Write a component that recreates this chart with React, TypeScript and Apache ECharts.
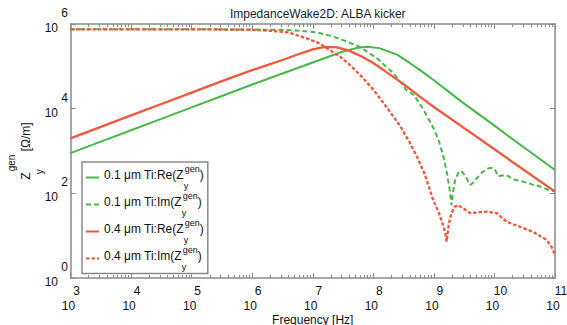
import React, { useEffect, useRef } from 'react';
import * as echarts from 'echarts';

// ---- axis ticks (decade exponents) ----
const xMajorExp = [3, 4, 5, 6, 7, 8, 9, 10, 11];
const yMajorExp = [0, 2, 4, 6];
const minorMantissas = [2, 3, 4, 5, 6, 7, 8, 9];

// ---- series (log10 frequency [Hz], log10 |Z| [Ohm/m]) ----
const re01LogF = [3.0, 3.5, 4.0, 4.5, 5.0, 5.5, 6.0, 6.5, 7.0, 7.25, 7.5, 7.75, 7.9, 8.1, 8.4, 8.6, 8.8, 9.0, 9.2, 9.5, 9.75, 10.0, 10.5, 11.0];
const re01LogZ = [2.95, 3.22, 3.49, 3.76, 4.03, 4.30, 4.57, 4.83, 5.09, 5.22, 5.35, 5.44, 5.46, 5.43, 5.27, 5.08, 4.88, 4.67, 4.45, 4.12, 3.86, 3.60, 3.07, 2.55];

const im01LogF = [3.0, 4.0, 5.0, 6.0, 6.5, 6.8, 7.07, 7.3, 7.5, 7.78, 8.06, 8.33, 8.55, 8.66, 8.72, 8.85, 8.99, 9.08, 9.16, 9.22, 9.27, 9.29, 9.32, 9.35, 9.4, 9.43, 9.47, 9.51, 9.56, 9.6, 9.65, 9.71, 9.8, 9.9, 9.96, 10.01, 10.06, 10.13, 10.2, 10.26, 10.31, 10.4, 10.48, 10.56, 10.64, 10.72, 10.81, 10.9, 11.0];
const im01LogZ = [5.875, 5.875, 5.875, 5.87, 5.86, 5.84, 5.8, 5.72, 5.62, 5.46, 5.19, 4.84, 4.44, 4.33, 4.22, 3.92, 3.55, 3.25, 2.85, 2.45, 2.0, 1.72, 2.05, 2.31, 2.48, 2.53, 2.5, 2.43, 2.3, 2.2, 2.25, 2.36, 2.5, 2.59, 2.6, 2.55, 2.41, 2.42, 2.43, 2.38, 2.33, 2.3, 2.27, 2.24, 2.2, 2.18, 2.13, 2.08, 2.04];

const re04LogF = [3.0, 3.5, 4.0, 4.5, 5.0, 5.5, 6.0, 6.25, 6.5, 6.75, 7.0, 7.2, 7.4, 7.6, 7.8, 8.0, 8.2, 8.5, 8.8, 9.0, 9.5, 10.0, 10.5, 11.0];
const re04LogZ = [3.30, 3.57, 3.84, 4.11, 4.38, 4.65, 4.91, 5.03, 5.15, 5.28, 5.40, 5.46, 5.45, 5.37, 5.24, 5.08, 4.88, 4.58, 4.25, 4.04, 3.54, 3.04, 2.54, 2.04];

const im04LogF = [3.0, 4.0, 5.0, 5.5, 6.0, 6.3, 6.6, 6.9, 7.1, 7.23, 7.45, 7.6, 7.78, 8.0, 8.17, 8.44, 8.6, 8.72, 8.85, 8.99, 9.08, 9.16, 9.19, 9.21, 9.25, 9.29, 9.34, 9.4, 9.5, 9.6, 9.72, 9.87, 10.04, 10.2, 10.42, 10.64, 10.86, 10.95, 11.0];
const im04LogZ = [5.875, 5.875, 5.873, 5.87, 5.86, 5.84, 5.8, 5.66, 5.55, 5.43, 5.23, 5.05, 4.8, 4.45, 4.13, 3.6, 3.2, 2.87, 2.45, 1.84, 1.55, 1.21, 1.05, 0.86, 1.3, 1.53, 1.68, 1.72, 1.63, 1.53, 1.55, 1.57, 1.53, 1.33, 1.21, 1.09, 0.9, 0.72, 0.54];

const legendPrefixes = ['0.1 μm Ti:Re(', '0.1 μm Ti:Im(', '0.4 μm Ti:Re(', '0.4 μm Ti:Im('];
const seriesNames = legendPrefixes.map((p) => p + 'Z_y^gen)');

const GREEN = '#46b84a';
const RED = '#f0573b';
const AXIS = '#8a8a8a';
const FONT = '"Liberation Sans", Arial, Helvetica, sans-serif';

const toPoints = (lf: number[], lz: number[]) => lf.map((f, i) => [Math.pow(10, f), Math.pow(10, lz[i])]);

export default function App() {
  const ref = useRef<HTMLDivElement>(null);

  useEffect(() => {
    if (!ref.current) return;
    const chart = echarts.init(ref.current, null, { renderer: 'svg' });

    const majorX = xMajorExp.map((e) => Math.pow(10, e));
    const minorX: number[] = [];
    xMajorExp.slice(0, -1).forEach((e) => minorMantissas.forEach((m) => minorX.push(m * Math.pow(10, e))));
    const majorY = yMajorExp.map((e) => Math.pow(10, e));

    const expOf = (v: number) => Math.round(Math.log10(v));
    const axisLine = { show: true, lineStyle: { color: AXIS, width: 1.5 } };
    const tickStyle = { color: AXIS, width: 1 };

    const xBase = { type: 'log', logBase: 10, min: 1e3, max: 1e11, splitLine: { show: false }, minorTick: { show: false } };
    const yBase = { type: 'log', logBase: 10, min: 1, max: 1e6, splitLine: { show: false }, minorTick: { show: false } };

    const option: any = {
      animation: false,
      backgroundColor: '#fff',
      title: {
        text: 'ImpedanceWake2D: ALBA kicker',
        left: 312.75,
        top: 3,
        textAlign: 'center',
        textStyle: { fontSize: 12, fontWeight: 'normal', color: '#222', fontFamily: FONT },
      },
      grid: { left: 70.5, right: 12, top: 24, bottom: 47, containLabel: false, outerBoundsMode: 'none' },
      xAxis: [
        {
          ...xBase,
          position: 'bottom',
          axisLine,
          axisTick: { show: true, inside: true, length: 5, customValues: majorX, lineStyle: tickStyle },
          axisLabel: {
            show: true,
            customValues: majorX,
            margin: 6,
            formatter: (v: number) => `{e|${expOf(v)}}\n{b|10}`,
            rich: {
              e: { fontSize: 12, color: '#111', fontFamily: FONT, padding: [0, 0, 0, 12], lineHeight: 14.5 },
              b: { fontSize: 12, color: '#111', fontFamily: FONT, padding: [0, 4, 0, 0], lineHeight: 14.5 },
            },
          },
          name: 'Frequency [Hz]',
          nameLocation: 'middle',
          nameGap: 35.5,
          nameMoveOverlap: false,
          nameTextStyle: { fontSize: 12, color: '#111', fontFamily: FONT },
        },
        {
          ...xBase,
          position: 'top',
          axisLine,
          axisTick: { show: true, inside: true, length: 5, customValues: majorX, lineStyle: tickStyle },
          axisLabel: { show: false },
        },
        {
          ...xBase,
          position: 'bottom',
          axisLine: { show: false },
          axisTick: { show: true, inside: true, length: 3, customValues: minorX, lineStyle: tickStyle },
          axisLabel: { show: false },
        },
        {
          ...xBase,
          position: 'top',
          axisLine: { show: false },
          axisTick: { show: true, inside: true, length: 3, customValues: minorX, lineStyle: tickStyle },
          axisLabel: { show: false },
        },
      ],
      yAxis: [
        {
          ...yBase,
          position: 'left',
          axisLine,
          axisTick: { show: true, inside: true, length: 5, customValues: majorY, lineStyle: tickStyle },
          axisLabel: {
            show: true,
            customValues: majorY,
            margin: 2.5,
            showMinLabel: true,
            showMaxLabel: true,
            padding: [0, 0, 7, 0],
            formatter: (v: number) => `{e|${expOf(v)}}\n{b|10}`,
            rich: {
              e: { fontSize: 12, color: '#111', fontFamily: FONT, lineHeight: 15 },
              b: { fontSize: 12, color: '#111', fontFamily: FONT, padding: [0, 10, 0, 0], lineHeight: 15 },
            },
          },
          name: '{m|Z}{sub|y}{sup|gen}{m| [Ω/m]}',
          nameLocation: 'middle',
          nameRotate: 90,
          nameGap: 26.5,
          nameMoveOverlap: false,
          nameTextStyle: {
            fontFamily: FONT,
            color: '#111',
            rich: {
              m: { fontSize: 12, color: '#111', fontFamily: FONT, verticalAlign: 'top', padding: [14, 0, 0, 0], lineHeight: 38 },
              sup: { fontSize: 10, color: '#111', fontFamily: FONT, verticalAlign: 'top', lineHeight: 10 },
              sub: { fontSize: 10, color: '#111', fontFamily: FONT, verticalAlign: 'bottom', lineHeight: 10, width: 1 },
            },
          },
        },
        {
          ...yBase,
          position: 'right',
          axisLine,
          axisTick: { show: true, inside: true, length: 5, customValues: majorY, lineStyle: tickStyle },
          axisLabel: { show: false },
        },
      ],
      legend: {
        orient: 'vertical',
        left: 82,
        top: 162,
        padding: [2.5, 4, 2, 3],
        itemGap: 1,
        itemWidth: 13,
        itemHeight: 1,
        backgroundColor: '#fff',
        borderColor: AXIS,
        borderWidth: 1.5,
        borderRadius: 0,
        itemStyle: { opacity: 0 },
        data: seriesNames,
        formatter: (name: string) => {
          const i = seriesNames.indexOf(name);
          return `{m|${legendPrefixes[i]}Z}{sub|y}{sup|gen}{m|)}`;
        },
        textStyle: {
          fontFamily: FONT,
          color: '#111',
          rich: {
            m: { fontSize: 12, color: '#111', fontFamily: FONT, verticalAlign: 'top', padding: [4, 0, 0, 0], lineHeight: 26 },
            sup: { fontSize: 9, color: '#111', fontFamily: FONT, verticalAlign: 'top', lineHeight: 9 },
            sub: { fontSize: 9, color: '#111', fontFamily: FONT, verticalAlign: 'bottom', lineHeight: 9, width: 1 },
          },
        },
      },
      series: [
        {
          name: seriesNames[0], type: 'line', xAxisIndex: 0, yAxisIndex: 0, showSymbol: false, symbol: 'none',
          itemStyle: { color: GREEN }, lineStyle: { color: GREEN, width: 2, type: 'solid' },
          data: toPoints(re01LogF, re01LogZ),
        },
        {
          name: seriesNames[1], type: 'line', xAxisIndex: 0, yAxisIndex: 0, showSymbol: false, symbol: 'none',
          itemStyle: { color: GREEN }, lineStyle: { color: GREEN, width: 2, type: [5, 3] },
          data: toPoints(im01LogF, im01LogZ),
        },
        {
          name: seriesNames[2], type: 'line', xAxisIndex: 0, yAxisIndex: 0, showSymbol: false, symbol: 'none',
          itemStyle: { color: RED }, lineStyle: { color: RED, width: 2.3, type: 'solid' },
          data: toPoints(re04LogF, re04LogZ),
        },
        {
          name: seriesNames[3], type: 'line', xAxisIndex: 0, yAxisIndex: 0, showSymbol: false, symbol: 'none',
          itemStyle: { color: RED }, lineStyle: { color: RED, width: 2.3, type: [3.5, 2] },
          data: toPoints(im04LogF, im04LogZ),
        },
      ],
    };

    chart.setOption(option);
    return () => chart.dispose();
  }, []);

  return <div ref={ref} style={{ position: 'fixed', left: 0, top: 0, width: 567, height: 325 }} />;
}
